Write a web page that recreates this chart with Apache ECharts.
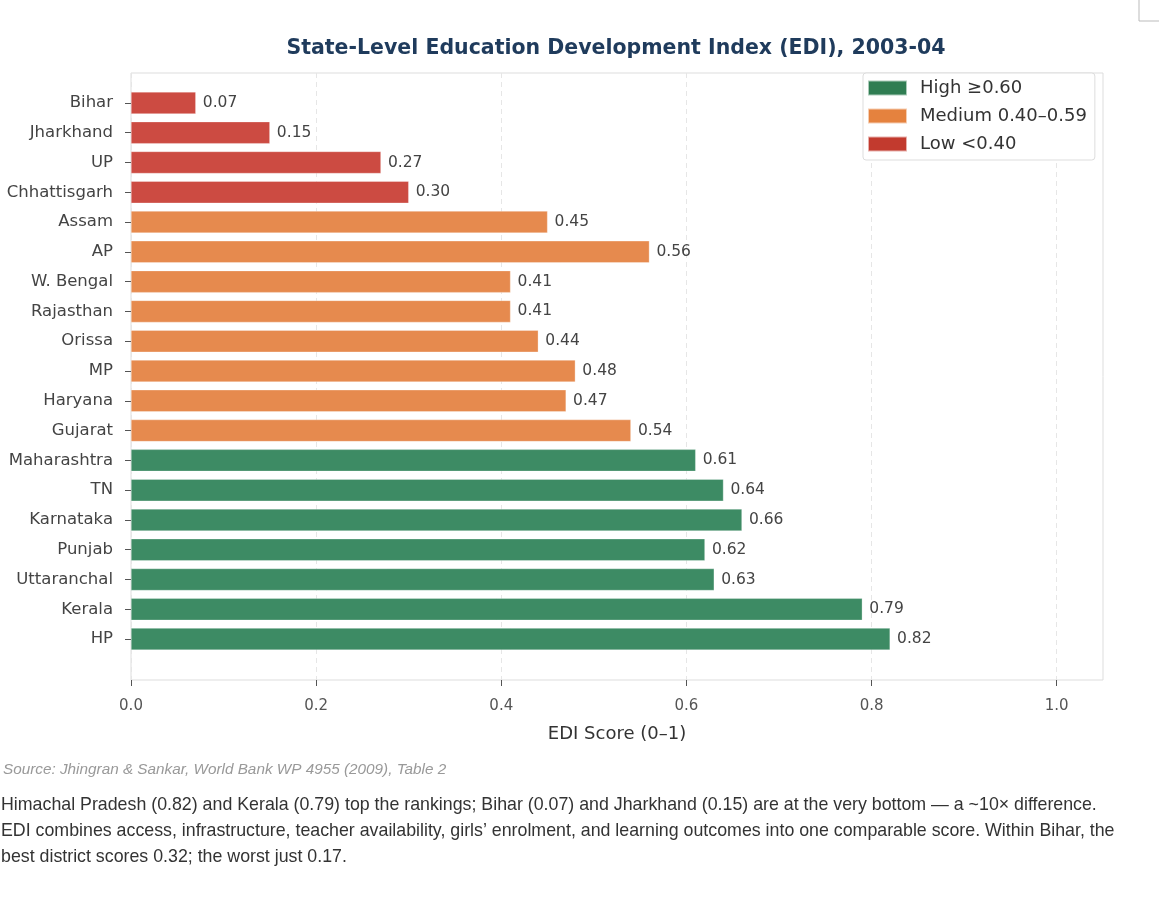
<!DOCTYPE html>
<html>
<head>
<meta charset="utf-8">
<script src="https://cdn.jsdelivr.net/npm/echarts@6/dist/echarts.min.js"></script>
<style>
html,body{margin:0;padding:0;background:#fff;}
#chart{width:1159px;height:917px;}
</style>
</head>
<body>
<div id="chart"></div>
<script>
const states = ["Bihar","Jharkhand","UP","Chhattisgarh","Assam","AP","W. Bengal","Rajasthan","Orissa","MP","Haryana","Gujarat","Maharashtra","TN","Karnataka","Punjab","Uttaranchal","Kerala","HP"];
const edi = [0.07,0.15,0.27,0.30,0.45,0.56,0.41,0.41,0.44,0.48,0.47,0.54,0.61,0.64,0.66,0.62,0.63,0.79,0.82];
const xTicks = [0,0.2,0.4,0.6,0.8,1.0];
const classNames = ["High ≥0.60","Medium 0.40–0.59","Low <0.40"];
const barColors = ["#3d8b64","#e68a4e","#cc4b42"];
const legendColors = ["#2f7d52","#e5823e","#c23a2e"];

function cls(v){ return v >= 0.60 ? 0 : (v >= 0.40 ? 1 : 2); }
const seriesData = classNames.map((_, c) => edi.map(v => cls(v) === c ? v : '-'));

const chart = echarts.init(document.getElementById('chart'));
const lbl = {fontFamily:'DejaVu Sans', color:'#444'};
chart.setOption({
  backgroundColor:'#fff',
  animation:false,
  title:{
    text:'State-Level Education Development Index (EDI), 2003-04',
    left:611, top:33, textAlign:'center',
    textStyle:{fontFamily:'DejaVu Sans', fontWeight:'bold', fontSize:20.5, color:'#1f3b5c'}
  },
  legend:{
    orient:'vertical', left:863, top:73,
    padding:[6,8,7,4],
    backgroundColor:'#fff', borderColor:'#dddddd', borderWidth:1, borderRadius:3,
    icon:'rect', itemWidth:39, itemHeight:15, itemGap:10,
    textStyle:{fontFamily:'DejaVu Sans', fontSize:18, lineHeight:18, color:'#333', padding:[0,0,0,8]},
    data: classNames.map((n,i)=>({name:n, itemStyle:{color:legendColors[i]}}))
  },
  grid:[
    {left:131, top:73, width:972, height:607, show:true, borderColor:'#dddddd', borderWidth:1, backgroundColor:'transparent', containLabel:false},
    {left:131, top:88, width:972, height:566, containLabel:false}
  ],
  xAxis:[
    {type:'value', gridIndex:0, min:0, max:1.05,
     axisLine:{show:false},
     axisTick:{show:true, length:6, lineStyle:{color:'#555'}, customValues:xTicks},
     axisLabel:{...lbl, fontSize:15, color:'#555', margin:19, customValues:xTicks, formatter:v=>v.toFixed(1)},
     splitLine:{show:true, lineStyle:{color:'#e6e6e6', type:[5,4], width:1}},
     name:'EDI Score (0–1)', nameLocation:'middle', nameGap:45,
     nameTextStyle:{fontFamily:'DejaVu Sans', fontSize:18, color:'#333'}
    },
    {type:'value', gridIndex:1, min:0, max:1.05, show:false, splitLine:{show:false}}
  ],
  yAxis:[
    {type:'value', gridIndex:0, show:false, splitLine:{show:false}},
    {type:'category', gridIndex:1, data:states, inverse:true,
     axisLine:{show:false},
     axisTick:{show:true, alignWithLabel:true, length:6, lineStyle:{color:'#555'}},
     axisLabel:{...lbl, fontSize:16.5, color:'#444', margin:18},
     splitLine:{show:false}
    }
  ],
  series: classNames.map((n,i)=>({
    name:n, type:'bar', xAxisIndex:1, yAxisIndex:1,
    data: seriesData[i], barWidth:22, barGap:'-100%',
    itemStyle:{color:barColors[i], borderColor:'rgba(255,255,255,0.6)', borderWidth:0.5},
    label:{show:true, position:'right', distance:7, ...lbl, fontSize:15.5, color:'#444',
      formatter:p=>Number(p.value).toFixed(2)}
  })),
  graphic:[
    {type:'text', left:3, top:762, style:{text:'Source: Jhingran & Sankar, World Bank WP 4955 (2009), Table 2', fontFamily:'Liberation Sans', fontStyle:'italic', fontSize:15.3, fill:'#999'}},
    {type:'text', left:1, top:792, style:{text:
      'Himachal Pradesh (0.82) and Kerala (0.79) top the rankings; Bihar (0.07) and Jharkhand (0.15) are at the very bottom — a ~10× difference.\n' +
      'EDI combines access, infrastructure, teacher availability, girls\u2019 enrolment, and learning outcomes into one comparable score. Within Bihar, the\n' +
      'best district scores 0.32; the worst just 0.17.',
      fontFamily:'Liberation Sans', fontSize:17.8, lineHeight:26, fill:'#333'}},
    {type:'polyline', shape:{points:[[1139,0],[1139,21],[1159,21]]}, style:{stroke:'#bbb', fill:null, lineWidth:1}}
  ]
});
</script>
</body>
</html>
